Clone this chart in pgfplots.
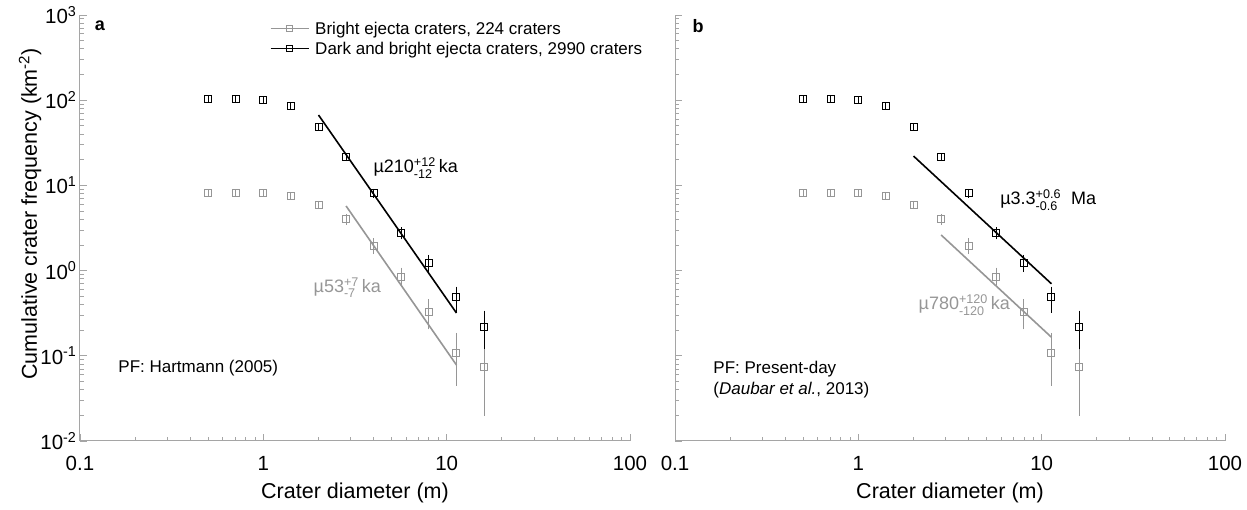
\documentclass[border=0pt]{standalone}
\usepackage{pgfplots}
\pgfplotsset{compat=1.18}
\usepackage{fontspec}
\usepackage{amsmath}
\setmainfont{Liberation Sans}
\definecolor{gry}{RGB}{150,150,150}
\definecolor{axgry}{RGB}{165,165,165}

\pgfplotsset{
  every axis/.append style={
    scale only axis, width=550pt, height=426pt,
    xmin=0.1, xmax=100, ymin=0.01, ymax=1000,
    axis x line*=bottom, axis y line*=left,
    x axis line style={-}, y axis line style={-},
    axis line style={axgry, line width=1pt},
    tick style={axgry, line width=0.8pt},
    major tick length=7pt, minor tick length=4pt,
    xtick={0.1,1,10,100}, xticklabels={0.1,1,10,100},
    ytick={0.01,0.1,1,10,100,1000},
    tick label style={font=\fontsize{20.5}{24}\selectfont, black},
    xticklabel style={yshift=-12pt},
    label style={font=\fontsize{21.5}{25}\selectfont},
    clip=false,
  },
  cdat/.style={only marks, mark=square, mark size=3.5pt, line width=1pt,
    error bars/y dir=both, error bars/y explicit,
    error bars/error bar style={line width=1pt},
    error bars/error mark options={mark size=2.2pt, line width=1pt}},
  cfit/.style={no marks, line width=1.6pt},
}
\newcommand{\ann}{\fontsize{18}{21}\selectfont}
\newcommand{\pff}{\fontsize{17}{21}\selectfont}

\begin{document}
\begin{tikzpicture}
\useasboundingbox (0,0) rectangle (1247pt,510pt);

% ---------- panel a ----------
\begin{loglogaxis}[at={(80pt,69pt)}, anchor=south west,
  yticklabels={10\textsuperscript{-2},10\textsuperscript{-1},10\textsuperscript{0},10\textsuperscript{1},10\textsuperscript{2},10\textsuperscript{3}},
  xlabel={Crater diameter (m)},
  xlabel style={at={(axis description cs:0.5,-0.123)}, anchor=center},
  ylabel={Cumulative crater frequency (km\textsuperscript{-2})},
  ylabel style={at={(axis description cs:-0.0909,0.533)}, anchor=center},
  legend style={draw=none, fill=none, at={(axis description cs:0.3455,0.984)}, anchor=north west,
    font=\fontsize{17}{20}\selectfont, row sep=6pt, inner sep=0pt,
    nodes={inner sep=0pt}, column sep=6pt},
  legend cell align=left,
  legend image code/.code={\draw[mark repeat=2,mark phase=2] plot coordinates {(0pt,0pt) (19pt,0pt) (38pt,0pt)};},
]
% bright ejecta craters (224)
\addplot[gry, cdat, forget plot] coordinates {
 (0.5,8.07) +- (0,0.3)
 (0.707,8.07) +- (0,0.3)
 (1,8.07) +- (0,0.3)
 (1.414,7.57) +- (0,0.3)
 (2,5.89) +- (0,0.3)
 (2.828,4.0) +- (0,0.35)
 (4,1.96) +- (0,0.3)
 (5.657,0.85) += (0,0.17) -= (0,0.14)
 (8,0.327) += (0,0.11) -= (0,0.11)
 (11.31,0.108) += (0,0.067) -= (0,0.061)
 (16,0.074) += (0,0.06) -= (0,0.053)
};
% dark and bright ejecta craters (2990)
\addplot[black, cdat, forget plot] coordinates {
 (0.5,103) +- (0,2)
 (0.707,103) +- (0,2)
 (1,100) +- (0,2)
 (1.414,85) +- (0,2)
 (2,48) +- (0,1.5)
 (2.828,21.5) +- (0,1)
 (4,8.1) +- (0,0.5)
 (5.657,2.76) +- (0,0.3)
 (8,1.23) +- (0,0.21)
 (11.31,0.49) += (0,0.12) -= (0,0.15)
 (16,0.22) += (0,0.10) -= (0,0.093)
};
% isochron fits
\addplot[gry, cfit, forget plot] coordinates {(2.828,5.73) (11.31,0.078)};
\addplot[black, cfit, forget plot] coordinates {(2,67) (11.31,0.318)};

\addlegendimage{gry, mark=square, mark size=3pt, line width=1pt}
\addlegendentry{Bright ejecta craters, 224 craters}
\addlegendimage{black, mark=square, mark size=3pt, line width=1pt}
\addlegendentry{Dark and bright ejecta craters, 2990 craters}

\node[anchor=west, font=\ann] at (axis cs:3.82,16) {µ210$^{\text{+12}}_{\text{-12}}$\,ka};
\node[anchor=west, font=\ann, text=gry] at (axis cs:1.8,0.63) {µ53$^{\text{+7}}_{\text{-7}}$\,ka};
\node[anchor=west, font=\pff] at (axis cs:0.155,0.072) {PF: Hartmann (2005)};
\end{loglogaxis}

% ---------- panel b ----------
\begin{loglogaxis}[at={(675pt,69pt)}, anchor=south west, yticklabels={},
  xlabel={Crater diameter (m)},
  xlabel style={at={(axis description cs:0.5,-0.123)}, anchor=center}]
\addplot[gry, cdat] coordinates {
 (0.5,8.07) +- (0,0.3)
 (0.707,8.07) +- (0,0.3)
 (1,8.07) +- (0,0.3)
 (1.414,7.57) +- (0,0.3)
 (2,5.89) +- (0,0.3)
 (2.828,4.0) +- (0,0.35)
 (4,1.96) +- (0,0.3)
 (5.657,0.85) += (0,0.17) -= (0,0.14)
 (8,0.327) += (0,0.11) -= (0,0.11)
 (11.31,0.108) += (0,0.067) -= (0,0.061)
 (16,0.074) += (0,0.06) -= (0,0.053)
};
\addplot[black, cdat] coordinates {
 (0.5,103) +- (0,2)
 (0.707,103) +- (0,2)
 (1,100) +- (0,2)
 (1.414,85) +- (0,2)
 (2,48) +- (0,1.5)
 (2.828,21.5) +- (0,1)
 (4,8.1) +- (0,0.5)
 (5.657,2.76) +- (0,0.3)
 (8,1.23) +- (0,0.21)
 (11.31,0.49) += (0,0.12) -= (0,0.15)
 (16,0.22) += (0,0.10) -= (0,0.093)
};
\addplot[gry, cfit] coordinates {(2.828,2.62) (11.31,0.165)};
\addplot[black, cfit] coordinates {(2,22.1) (11.31,0.70)};

\node[anchor=west, font=\ann] at (axis cs:5.69,6.7) {µ3.3$^{\text{+0.6}}_{\text{-0.6}}$\ \ Ma};
\node[anchor=west, font=\ann, text=gry] at (axis cs:2.04,0.394) {µ780$^{\text{+120}}_{\text{-120}}$\,ka};
\node[anchor=west, font=\pff, align=left] at (axis cs:0.155,0.052) {PF: Present-day\\(\textit{Daubar et al.}, 2013)};
\end{loglogaxis}

\node[font=\bfseries\fontsize{18}{20}\selectfont] at (100pt,484pt) {a};
\node[font=\bfseries\fontsize{18}{20}\selectfont] at (698pt,484pt) {b};
\end{tikzpicture}
\end{document}
